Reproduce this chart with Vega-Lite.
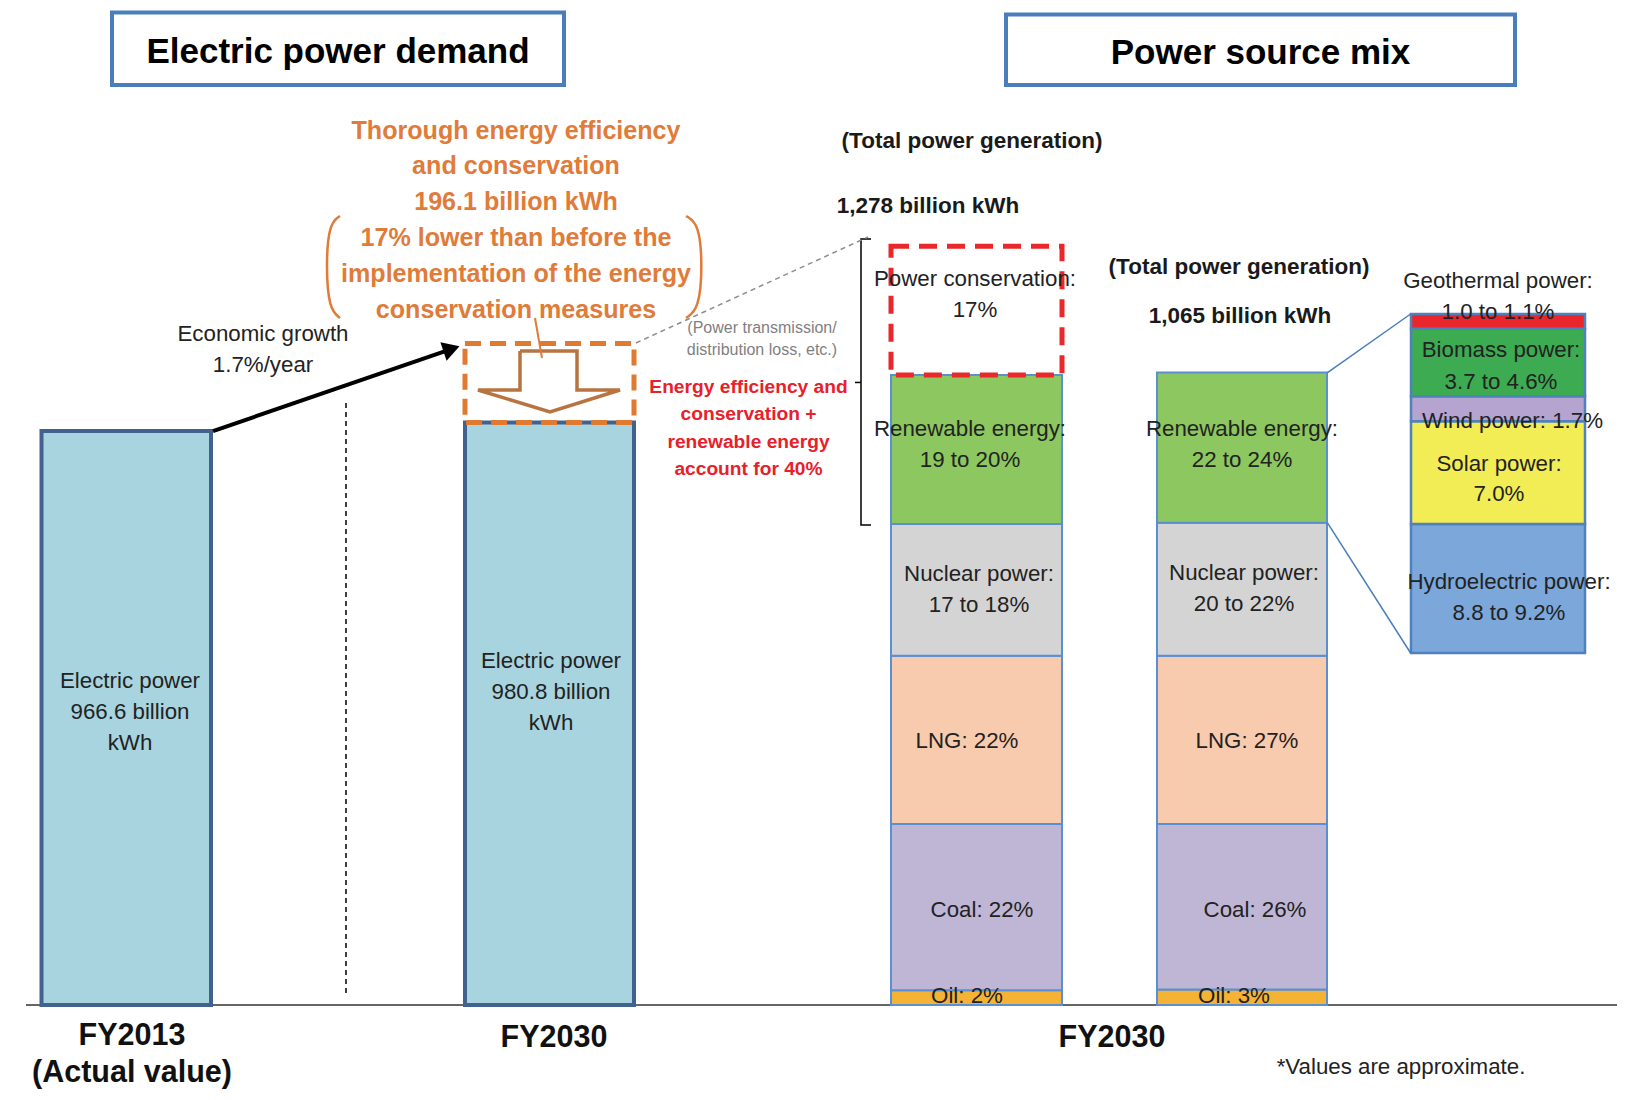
{
  "$schema": "https://vega.github.io/schema/vega-lite/v6.json",
  "width": 1630,
  "height": 1100,
  "autosize": {"type": "fit", "contains": "padding"},
  "padding": 0,
  "background": "white",
  "config": {"view": {"stroke": null}},
  "layer": [
    {
      "encoding": {
        "x": {"field": "x", "type": "quantitative", "scale": {"domain": [0, 163], "nice": false, "zero": false}, "axis": null},
        "y": {"field": "y", "type": "quantitative", "scale": {"domain": [-30.46, 44.5], "nice": false, "zero": false}, "axis": null}
      },
      "layer": [
        {
          "data": {"values": [
            {"bar": "Renewables", "x": 141.1, "x2": 158.5, "source": "Hydroelectric power", "pct": 8.8, "order": 1},
            {"bar": "Renewables", "x": 141.1, "x2": 158.5, "source": "Solar power", "pct": 7.0, "order": 2},
            {"bar": "Renewables", "x": 141.1, "x2": 158.5, "source": "Wind power", "pct": 1.7, "order": 3},
            {"bar": "Renewables", "x": 141.1, "x2": 158.5, "source": "Biomass power", "pct": 4.6, "order": 4},
            {"bar": "Renewables", "x": 141.1, "x2": 158.5, "source": "Geothermal power", "pct": 1.0, "order": 5}
          ]},
          "transform": [{"stack": "pct", "groupby": ["bar"], "sort": [{"field": "order"}], "as": ["y", "y2"]}],
          "mark": {"type": "rect", "stroke": "#4f81bd", "strokeWidth": 2.5},
          "encoding": {
            "x2": {"field": "x2"},
            "y2": {"field": "y2"},
            "color": {"field": "source", "type": "nominal", "legend": null,
              "scale": {"domain": ["Hydroelectric power", "Solar power", "Wind power", "Biomass power", "Geothermal power"],
                        "range": ["#7ba7db", "#f2ec55", "#b5a3d0", "#3cab51", "#e8262b"]}}
          }
        }
      ]
    },
    {
      "encoding": {
        "x": {"field": "x", "type": "quantitative", "scale": {"domain": [0, 163], "nice": false, "zero": false}, "axis": null},
        "y": {"field": "y", "type": "quantitative", "scale": {"domain": [-160, 1692.5], "nice": false, "zero": false}, "axis": null}
      },
      "layer": [
        {
          "data": {"values": [
            {"x": 11.2, "x2": 56.4, "y": 1549.4, "y2": 1671.4},
            {"x": 100.6, "x2": 151.5, "y": 1549.4, "y2": 1668.1}
          ]},
          "mark": {"type": "rect", "fill": "white", "stroke": "#4a7ebb", "strokeWidth": 4},
          "encoding": {"x2": {"field": "x2"}, "y2": {"field": "y2"}}
        },
        {
          "data": {"values": [
            {"text": "Electric power demand", "x": 33.8, "y": 1605},
            {"text": "Power source mix", "x": 126.05, "y": 1603}
          ]},
          "mark": {"type": "text", "font": "Liberation Sans", "fontWeight": "bold", "fontSize": 35, "align": "center", "baseline": "middle", "color": "#000000"},
          "encoding": {"text": {"field": "text"}}
        },
        {
          "data": {"values": [
            {"x": 2.6, "y": 0, "x2": 161.7, "y2": 0}
          ]},
          "mark": {"type": "rule", "color": "#666666", "strokeWidth": 2},
          "encoding": {"x2": {"field": "x2"}, "y2": {"field": "y2"}}
        },
        {
          "data": {"values": [
            {"bar": "FY2013 (Actual value)", "x": 4.15, "x2": 21.1, "kwh": 966.6},
            {"bar": "FY2030", "x": 46.5, "x2": 63.4, "kwh": 980.8}
          ]},
          "transform": [{"stack": "kwh", "groupby": ["bar"], "as": ["y", "y2"]}],
          "mark": {"type": "rect", "fill": "#a7d4df", "stroke": "#41628f", "strokeWidth": 4},
          "encoding": {"x2": {"field": "x2"}, "y2": {"field": "y2"}}
        },
        {
          "data": {"values": [
            {"x": 46.5, "x2": 63.4, "y": 980.8, "y2": 1114}
          ]},
          "mark": {"type": "rect", "fill": "transparent", "stroke": "#e07a30", "strokeWidth": 5, "strokeDash": [16, 9]},
          "encoding": {"x2": {"field": "x2"}, "y2": {"field": "y2"}}
        },
        {
          "data": {"values": [
            {"bar": "mix1", "x": 89.1, "x2": 106.2, "source": "Oil", "kwh": 25, "order": 1},
            {"bar": "mix1", "x": 89.1, "x2": 106.2, "source": "Coal", "kwh": 280, "order": 2},
            {"bar": "mix1", "x": 89.1, "x2": 106.2, "source": "LNG", "kwh": 283, "order": 3},
            {"bar": "mix1", "x": 89.1, "x2": 106.2, "source": "Nuclear power", "kwh": 222, "order": 4},
            {"bar": "mix1", "x": 89.1, "x2": 106.2, "source": "Renewable energy", "kwh": 251, "order": 5},
            {"bar": "mix1", "x": 89.1, "x2": 106.2, "source": "Power conservation", "kwh": 217, "order": 6},
            {"bar": "mix2", "x": 115.7, "x2": 132.7, "source": "Oil", "kwh": 26, "order": 1},
            {"bar": "mix2", "x": 115.7, "x2": 132.7, "source": "Coal", "kwh": 279, "order": 2},
            {"bar": "mix2", "x": 115.7, "x2": 132.7, "source": "LNG", "kwh": 283, "order": 3},
            {"bar": "mix2", "x": 115.7, "x2": 132.7, "source": "Nuclear power", "kwh": 224, "order": 4},
            {"bar": "mix2", "x": 115.7, "x2": 132.7, "source": "Renewable energy", "kwh": 253, "order": 5}
          ]},
          "transform": [
            {"stack": "kwh", "groupby": ["bar"], "sort": [{"field": "order"}], "as": ["y", "y2"]}
          ],
          "layer": [
            {
              "transform": [{"filter": "datum.source !== 'Power conservation'"}],
              "mark": {"type": "rect", "stroke": "#5b8fd4", "strokeWidth": 2},
              "encoding": {
                "x2": {"field": "x2"},
                "y2": {"field": "y2"},
                "color": {"field": "source", "type": "nominal", "legend": null,
                  "scale": {"domain": ["Oil", "Coal", "LNG", "Nuclear power", "Renewable energy"],
                            "range": ["#f5b335", "#bfb6d6", "#f9cbae", "#d4d4d4", "#8dc75f"]}}
              }
            },
            {
              "transform": [{"filter": "datum.source === 'Power conservation'"}],
              "mark": {"type": "rect", "fill": "transparent", "stroke": "#e8282a", "strokeWidth": 5, "strokeDash": [18, 10]},
              "encoding": {"x2": {"field": "x2"}, "y2": {"field": "y2"}}
            }
          ]
        },
        {
          "data": {"values": [
            {"g": "L", "i": 0, "x": 34.0, "y": 1328.8},
            {"g": "L", "i": 1, "x": 32.9, "y": 1316},
            {"g": "L", "i": 2, "x": 32.6, "y": 1244.5},
            {"g": "L", "i": 3, "x": 32.9, "y": 1172},
            {"g": "L", "i": 4, "x": 34.0, "y": 1157},
            {"g": "R", "i": 0, "x": 68.6, "y": 1328.8},
            {"g": "R", "i": 1, "x": 69.9, "y": 1316},
            {"g": "R", "i": 2, "x": 70.25, "y": 1244.5},
            {"g": "R", "i": 3, "x": 69.9, "y": 1172},
            {"g": "R", "i": 4, "x": 68.6, "y": 1157}
          ]},
          "mark": {"type": "line", "interpolate": "basis", "color": "#e07b39", "strokeWidth": 2.5},
          "encoding": {"order": {"field": "i", "type": "quantitative"}, "detail": {"field": "g"}}
        },
        {
          "data": {"values": [
            {"i": 0, "x": 52.0, "y": 1101.4},
            {"i": 1, "x": 57.7, "y": 1101.4},
            {"i": 2, "x": 57.7, "y": 1035.7},
            {"i": 3, "x": 62.0, "y": 1035.7},
            {"i": 4, "x": 55.0, "y": 998.7},
            {"i": 5, "x": 47.8, "y": 1035.7},
            {"i": 6, "x": 52.0, "y": 1035.7},
            {"i": 7, "x": 52.0, "y": 1101.4}
          ]},
          "mark": {"type": "line", "color": "#b87440", "strokeWidth": 3.5, "strokeJoin": "miter"},
          "encoding": {"order": {"field": "i", "type": "quantitative"}}
        },
        {
          "data": {"values": [
            {"i": 0, "x": 87.1, "y": 1290.0},
            {"i": 1, "x": 86.1, "y": 1290.0},
            {"i": 2, "x": 86.1, "y": 808.4},
            {"i": 3, "x": 87.1, "y": 808.4}
          ]},
          "mark": {"type": "line", "color": "#000000", "strokeWidth": 1.5},
          "encoding": {"order": {"field": "i", "type": "quantitative"}}
        },
        {
          "data": {"values": [
            {"x": 86.1, "y": 1048.4, "x2": 85.5, "y2": 1048.4}
          ]},
          "mark": {"type": "rule", "color": "#000000", "strokeWidth": 1.5},
          "encoding": {"x2": {"field": "x2"}, "y2": {"field": "y2"}}
        },
        {
          "data": {"values": [
            {"x": 21.3, "y": 966.6, "x2": 44.9, "y2": 1103.1}
          ]},
          "mark": {"type": "rule", "color": "#000000", "strokeWidth": 4},
          "encoding": {"x2": {"field": "x2"}, "y2": {"field": "y2"}}
        },
        {
          "data": {"values": [
            {"x": 45.15, "y": 1104.9}
          ]},
          "mark": {"type": "point", "shape": "triangle-right", "size": 380, "angle": 341.5, "filled": true, "color": "#000000", "opacity": 1},
          "encoding": {}
        },
        {
          "data": {"values": [
            {"x": 34.6, "y": 20.2, "x2": 34.6, "y2": 1018.9}
          ]},
          "mark": {"type": "rule", "color": "#000000", "strokeWidth": 1.5, "strokeDash": [5, 4]},
          "encoding": {"x2": {"field": "x2"}, "y2": {"field": "y2"}}
        },
        {
          "data": {"values": [
            {"x": 63.6, "y": 1114.9, "x2": 86.8, "y2": 1293.4}
          ]},
          "mark": {"type": "rule", "color": "#8c8c8c", "strokeWidth": 1.5, "strokeDash": [5, 4]},
          "encoding": {"x2": {"field": "x2"}, "y2": {"field": "y2"}}
        },
        {
          "data": {"values": [
            {"x": 132.75, "y": 1065, "x2": 141.06, "y2": 1163.7},
            {"x": 132.75, "y": 812, "x2": 141.06, "y2": 592.8}
          ]},
          "mark": {"type": "rule", "color": "#4a7ebb", "strokeWidth": 1.5},
          "encoding": {"x2": {"field": "x2"}, "y2": {"field": "y2"}}
        },
        {
          "data": {"values": [
            {"x": 53.5, "y": 1157.0, "x2": 54.2, "y2": 1089.6}
          ]},
          "mark": {"type": "rule", "color": "#e07b39", "strokeWidth": 2},
          "encoding": {"x2": {"field": "x2"}, "y2": {"field": "y2"}}
        },
        {
          "data": {"values": [
            {"text": "Economic growth", "x": 26.3, "y": 1130.0},
            {"text": "1.7%/year", "x": 26.3, "y": 1077.8},
            {"text": "Electric power", "x": 13.0, "y": 545.6},
            {"text": "966.6 billion", "x": 13.0, "y": 493.4},
            {"text": "kWh", "x": 13.0, "y": 441.2},
            {"text": "Electric power", "x": 55.1, "y": 579.3},
            {"text": "980.8 billion", "x": 55.1, "y": 527.1},
            {"text": "kWh", "x": 55.1, "y": 474.9},
            {"text": "Power conservation:", "x": 97.5, "y": 1223.3},
            {"text": "17%", "x": 97.5, "y": 1170.8},
            {"text": "Renewable energy:", "x": 97.0, "y": 969.5},
            {"text": "19 to 20%", "x": 97.0, "y": 917.0},
            {"text": "Nuclear power:", "x": 97.9, "y": 726.2},
            {"text": "17 to 18%", "x": 97.9, "y": 673.6},
            {"text": "LNG: 22%", "x": 96.7, "y": 444.6},
            {"text": "Coal: 22%", "x": 98.2, "y": 160.7},
            {"text": "Oil: 2%", "x": 96.7, "y": 15.2},
            {"text": "Renewable energy:", "x": 124.2, "y": 969.5},
            {"text": "22 to 24%", "x": 124.2, "y": 917.0},
            {"text": "Nuclear power:", "x": 124.4, "y": 727.9},
            {"text": "20 to 22%", "x": 124.4, "y": 675.3},
            {"text": "LNG: 27%", "x": 124.7, "y": 444.6},
            {"text": "Coal: 26%", "x": 125.5, "y": 160.7},
            {"text": "Oil: 3%", "x": 123.4, "y": 15.2},
            {"text": "Geothermal power:", "x": 149.8, "y": 1219.8},
            {"text": "1.0 to 1.1%", "x": 149.8, "y": 1167.3},
            {"text": "Biomass power:", "x": 150.1, "y": 1102.6},
            {"text": "3.7 to 4.6%", "x": 150.1, "y": 1050.0},
            {"text": "Wind power: 1.7%", "x": 151.25, "y": 983.5},
            {"text": "Solar power:", "x": 149.9, "y": 911.8},
            {"text": "7.0%", "x": 149.9, "y": 860.9},
            {"text": "Hydroelectric power:", "x": 150.9, "y": 712.4},
            {"text": "8.8 to 9.2%", "x": 150.9, "y": 659.7},
            {"text": "*Values are approximate.", "x": 140.1, "y": -103.6}
          ]},
          "mark": {"type": "text", "font": "Liberation Sans", "fontSize": 22.3, "align": "center", "baseline": "middle", "color": "#222222"},
          "encoding": {"text": {"field": "text"}}
        },
        {
          "data": {"values": [
            {"text": "(Power transmission/", "x": 76.2, "y": 1139.3},
            {"text": "distribution loss, etc.)", "x": 76.2, "y": 1103.1}
          ]},
          "mark": {"type": "text", "font": "Liberation Sans", "fontSize": 16, "align": "center", "baseline": "middle", "color": "#7f7f7f"},
          "encoding": {"text": {"field": "text"}}
        },
        {
          "data": {"values": [
            {"text": "Energy efficiency and", "x": 74.85, "y": 1041.3},
            {"text": "conservation +", "x": 74.85, "y": 995.8},
            {"text": "renewable energy", "x": 74.85, "y": 948.5},
            {"text": "account for 40%", "x": 74.85, "y": 903.0}
          ]},
          "mark": {"type": "text", "font": "Liberation Sans", "fontWeight": "bold", "fontSize": 19.2, "align": "center", "baseline": "middle", "color": "#e8202a"},
          "encoding": {"text": {"field": "text"}}
        },
        {
          "data": {"values": [
            {"text": "Thorough energy efficiency", "x": 51.6, "y": 1471.9},
            {"text": "and conservation", "x": 51.6, "y": 1413.0},
            {"text": "196.1 billion kWh", "x": 51.6, "y": 1352.8},
            {"text": "17% lower than before the", "x": 51.6, "y": 1291.7},
            {"text": "implementation of the energy", "x": 51.6, "y": 1230.4},
            {"text": "conservation measures", "x": 51.6, "y": 1170.8}
          ]},
          "mark": {"type": "text", "font": "Liberation Sans", "fontWeight": "bold", "fontSize": 25.1, "align": "center", "baseline": "middle", "color": "#e07b39"},
          "encoding": {"text": {"field": "text"}}
        },
        {
          "data": {"values": [
            {"text": "(Total power generation)", "x": 97.2, "y": 1454.4},
            {"text": "1,278 billion kWh", "x": 92.8, "y": 1345.9},
            {"text": "(Total power generation)", "x": 123.9, "y": 1242.9},
            {"text": "1,065 billion kWh", "x": 124.0, "y": 1160.3}
          ]},
          "mark": {"type": "text", "font": "Liberation Sans", "fontWeight": "bold", "fontSize": 22.5, "align": "center", "baseline": "middle", "color": "#1a1a1a"},
          "encoding": {"text": {"field": "text"}}
        },
        {
          "data": {"values": [
            {"text": "FY2013", "x": 13.2, "y": -52.2},
            {"text": "(Actual value)", "x": 13.2, "y": -114.5},
            {"text": "FY2030", "x": 55.4, "y": -55.6},
            {"text": "FY2030", "x": 111.2, "y": -55.6}
          ]},
          "mark": {"type": "text", "font": "Liberation Sans", "fontWeight": "bold", "fontSize": 30.5, "align": "center", "baseline": "middle", "color": "#111111"},
          "encoding": {"text": {"field": "text"}}
        }
      ]
    }
  ],
  "resolve": {"scale": {"y": "independent", "color": "independent"}}
}
